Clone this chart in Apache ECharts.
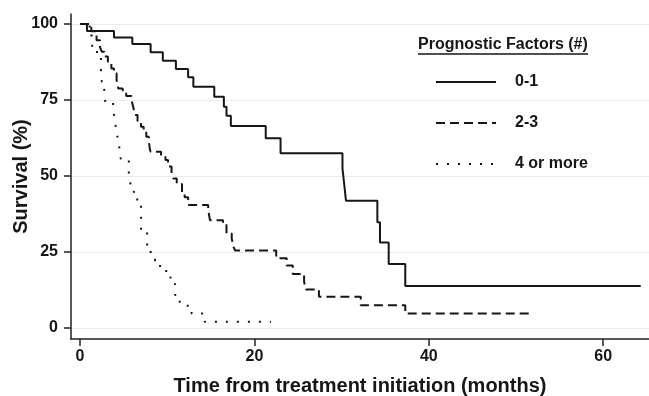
<!DOCTYPE html>
<html>
<head>
<meta charset="utf-8">
<script src="https://cdn.jsdelivr.net/npm/echarts@6/dist/echarts.min.js"></script>
<style>
html,body{margin:0;padding:0;background:#fff;}
#chart{width:649px;height:396px;}
</style>
</head>
<body>
<div id="chart"></div>
<script>
// Kaplan-Meier curves, [months, survival %] after each drop
var groupNames = ['0-1', '2-3', '4 or more'];
var survival01 = [[0,100],[0.8,97.7],[3.9,95.6],[6.0,93.4],[8.1,90.7],[9.5,87.9],[11.0,85.2],[12.4,82.5],[13.0,79.4],
	[15.4,76.1],[16.5,72.8],[16.8,69.8],[17.3,66.5],[21.3,62.4],[23.0,57.5],[30.1,52.5],[30.3,47.3],[30.5,41.9],
	[34.1,34.8],[34.4,28.1],[35.4,21.1],[37.3,13.8],[64.3,13.8]];
var survival23 = [[0,100],[1.3,97.6],[1.9,94.7],[2.3,92.3],[2.5,90.9],[2.8,89.3],[3.2,87.6],[3.6,85.4],[3.9,83.8],
	[4.2,81.6],[4.4,78.8],[4.9,77.7],[5.3,76.3],[5.9,75.0],[6.1,72.8],[6.3,70.1],[6.6,67.9],[7.0,66.2],[7.3,64.6],
	[7.6,62.9],[7.9,61.3],[8.0,59.1],[8.1,58.0],[9.3,56.9],[9.8,55.3],[10.1,53.1],[10.5,50.9],[10.7,49.2],[11.1,47.4],
	[11.7,44.3],[12.0,43.0],[12.4,40.5],[14.7,39.0],[14.9,35.5],[16.4,33.9],[16.8,31.1],[17.4,29.5],[17.6,26.7],
	[17.8,25.5],[22.5,23.0],[23.7,20.6],[24.4,17.8],[25.7,15.2],[25.9,12.7],[27.4,10.3],[32.2,7.5],[37.3,4.8],[52.0,4.8]];
var survival4 = [[0,100],[1.1,96.2],[1.4,90.8],[2.4,84.9],[2.5,81.0],[2.75,79.4],[2.9,74.4],[3.8,72.3],[4.0,68.4],
	[4.2,64.0],[4.4,61.8],[4.5,59.6],[4.6,56.9],[4.7,55.3],[5.6,50.3],[5.8,47.3],[5.9,44.8],[6.2,42.3],[7.0,32.0],
	[7.7,26.7],[8.1,24.0],[8.3,22.6],[8.6,21.8],[8.9,20.4],[9.6,18.8],[10.1,16.6],[10.4,14.5],[10.9,10.9],[11.4,9.0],
	[11.6,7.3],[12.8,4.8],[14.3,2.1],[21.9,2.1]];
var xTicks = [0, 20, 40, 60];
var yTicks = [0, 25, 50, 75, 100];

var font = '"Liberation Sans", Arial, sans-serif';
var ink = '#161616';

function kmSeries(name, data, type) {
	return {
		name: name,
		type: 'line',
		step: 'end',
		data: data,
		symbol: 'none',
		z: 3,
		lineStyle: { color: ink, width: 2, type: type, cap: 'butt' },
		itemStyle: { color: ink }
	};
}

var chart = echarts.init(document.getElementById('chart'));
chart.setOption({
	animation: false,
	backgroundColor: '#fff',
	textStyle: { fontFamily: font },
	grid: { left: 71, right: 0, top: 14, bottom: 57, outerBoundsMode: 'none', containLabel: false },
	xAxis: {
		type: 'value',
		min: -1.03, max: 65.25,
		name: 'Time from treatment initiation (months)',
		nameLocation: 'middle',
		nameGap: 37,
		nameMoveOverlap: false,
		nameTextStyle: { fontSize: 20, fontWeight: 'bold', color: ink, fontFamily: font },
		axisLine: { show: true, onZero: false, lineStyle: { color: '#222', width: 1.5 } },
		axisTick: { show: true, length: 7, customValues: xTicks, lineStyle: { color: '#222', width: 1.5 } },
		axisLabel: { customValues: xTicks, margin: 10, fontSize: 16, fontWeight: 'bold', color: ink, fontFamily: font },
		splitLine: { show: false }
	},
	yAxis: {
		type: 'value',
		min: -3.6, max: 103.3,
		name: 'Survival (%)',
		nameLocation: 'middle',
		nameGap: 40,
		nameMoveOverlap: false,
		nameTextStyle: { fontSize: 20, fontWeight: 'bold', color: ink, fontFamily: font },
		axisLine: { show: true, onZero: false, lineStyle: { color: '#222', width: 1.5 } },
		axisTick: { show: true, length: 7, customValues: yTicks, lineStyle: { color: '#222', width: 1.5 } },
		axisLabel: { customValues: yTicks, margin: 13, fontSize: 16, fontWeight: 'bold', color: ink, fontFamily: font },
		splitLine: { show: true, lineStyle: { color: '#ebebeb', width: 1 } }
	},
	legend: {
		orient: 'vertical',
		left: 430, top: 69,
		itemWidth: 60, itemHeight: 14, itemGap: 25,
		data: groupNames,
		itemStyle: { opacity: 0 },
		textStyle: { fontSize: 16, fontWeight: 'bold', color: ink, fontFamily: font, padding: [0, 0, 0, 14] }
	},
	graphic: [
		{ type: 'text', left: 418, top: 37, style: { text: 'Prognostic Factors (#)', font: 'bold 16px ' + font, fill: ink } },
		{ type: 'line', shape: { x1: 418, y1: 54, x2: 588, y2: 54 }, style: { stroke: ink, lineWidth: 1.5 } }
	],
	series: [
		kmSeries(groupNames[0], survival01, 'solid'),
		kmSeries(groupNames[1], survival23, [9, 5]),
		kmSeries(groupNames[2], survival4, [2, 9])
	]
});
</script>
</body>
</html>
